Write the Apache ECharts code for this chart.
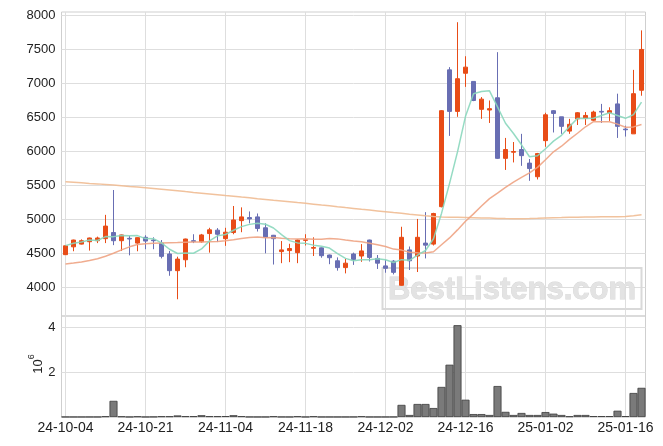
<!DOCTYPE html>
<html><head><meta charset="utf-8">
<script src="https://cdn.jsdelivr.net/npm/echarts@6/dist/echarts.min.js"></script>
<style>html,body{margin:0;padding:0;background:#fff}#c{width:663px;height:446px}</style>
</head><body><div id="c"></div>
<script>
const dates = ['24-10-04','24-10-07','24-10-08','24-10-10','24-10-11','24-10-14','24-10-15','24-10-16','24-10-17','24-10-18',
'24-10-21','24-10-22','24-10-23','24-10-24','24-10-25','24-10-28','24-10-29','24-10-30','24-10-31','24-11-01',
'24-11-04','24-11-05','24-11-06','24-11-07','24-11-08','24-11-11','24-11-12','24-11-13','24-11-14','24-11-15',
'24-11-18','24-11-19','24-11-20','24-11-21','24-11-22','24-11-25','24-11-26','24-11-27','24-11-28','24-11-29',
'24-12-02','24-12-03','24-12-04','24-12-05','24-12-06','24-12-09','24-12-10','24-12-11','24-12-12','24-12-13',
'24-12-16','24-12-17','24-12-18','24-12-19','24-12-20','24-12-23','24-12-24','24-12-26','24-12-27','24-12-30',
'25-01-02','25-01-03','25-01-06','25-01-07','25-01-08','25-01-09','25-01-10','25-01-13','25-01-14','25-01-15',
'25-01-16','25-01-17','25-01-20'];
const opens = [4485,4600,4640,4675,4690,4720,4810,4690,4725,4655,
4740,4700,4655,4495,4250,4410,4690,4675,4795,4845,
4720,4810,4985,5030,5040,4880,4770,4530,4545,4515,
4695,4580,4585,4480,4395,4295,4495,4465,4700,4430,
4320,4390,4035,4555,4465,4655,4640,5190,7200,6590,
7150,7030,6620,6610,6790,5900,5990,6030,5830,5630,
6160,6600,6510,6300,6480,6490,6460,6590,6570,6700,
6330,6260,6900];
const closes = [4615,4700,4690,4730,4730,4905,4690,4775,4715,4735,
4685,4690,4460,4250,4420,4715,4680,4775,4850,4785,
4815,4995,5040,5010,4870,4740,4720,4555,4575,4700,
4705,4590,4470,4440,4295,4360,4415,4540,4445,4360,
4285,4225,4740,4395,4740,4625,5090,6600,6590,7070,
7240,6750,6770,6630,5900,6030,6000,5940,5750,5970,
6540,6560,6370,6400,6570,6530,6580,6580,6600,6370,
6320,6850,7500];
const lows = [4480,4535,4635,4545,4655,4655,4625,4540,4475,4535,
4565,4565,4430,4175,3830,4300,4655,4660,4515,4670,
4615,4785,4815,4945,4825,4505,4340,4360,4375,4360,
4620,4465,4440,4345,4250,4210,4335,4380,4385,4275,
4220,4195,4030,4260,4230,4430,4620,5180,6230,6510,
6950,6740,6480,6420,5890,5730,5840,5790,5570,5590,
6070,6280,6260,6260,6390,6390,6450,6420,6450,6200,
6220,6260,6820];
const highs = [4620,4705,4710,4735,4750,5070,5435,4780,4760,4740,
4770,4740,4700,4540,4455,4720,4785,4790,4880,4875,
4880,5200,5180,5120,5090,4945,4775,4685,4645,4710,
4785,4740,4590,4485,4445,4425,4515,4640,4705,4480,
4405,4405,4895,4605,5010,5110,5100,6610,7240,7900,
7400,7030,6800,6750,7460,6200,6140,6260,5890,5980,
6570,6610,6510,6480,6580,6580,6600,6700,6650,6850,
6380,7200,7780];
const volumes = [3000,2000,2000,3000,3000,30000,720000,25000,4000,25000,
3000,9000,30000,30000,70000,35000,35000,80000,35000,35000,
40000,80000,35000,5000,3000,4000,30000,5000,3000,30000,
4000,30000,3000,3000,3000,3000,5000,30000,3000,3000,
3000,5000,540000,90000,580000,580000,400000,1340000,2330000,4090000,
770000,130000,130000,90000,1380000,230000,90000,180000,90000,90000,
220000,150000,90000,30000,90000,90000,40000,40000,40000,280000,
40000,1070000,1300000];
const ma5 = [4618,4653,4672,4700,4693,4751,4750,4767,4764,4765,
4721,4720,4658,4565,4502,4508,4506,4569,4688,4761,
4781,4844,4897,4930,4947,4932,4877,4780,4691,4658,
4651,4625,4608,4582,4500,4431,4396,4410,4411,4424,
4410,4371,4412,4402,4478,4546,4719,5091,5529,5995,
6517,6848,6883,6892,6657,6415,6265,6099,5923,5938,
6041,6153,6238,6369,6487,6484,6488,6530,6570,6530,
6488,6542,6726];
const ma20 = [4348,4362,4378,4398,4425,4462,4505,4555,4600,4635,
4645,4652,4657,4660,4663,4667,4670,4672,4676,4680,
4690,4705,4723,4737,4744,4735,4737,4726,4719,4717,
4718,4713,4713,4723,4717,4699,4686,4674,4654,4632,
4606,4567,4552,4522,4515,4509,4528,4630,4731,4849,
4976,5084,5199,5308,5389,5472,5551,5621,5686,5767,
5880,5996,6078,6178,6269,6364,6439,6437,6438,6403,
6357,6362,6398];
const maLong = [5555,5548,5540,5532,5525,5516,5507,5497,5487,5478,
5468,5458,5447,5436,5425,5412,5400,5389,5378,5366,
5354,5343,5331,5320,5308,5297,5285,5274,5262,5250,
5239,5227,5215,5204,5190,5177,5165,5152,5140,5128,
5116,5104,5093,5080,5068,5055,5044,5038,5036,5034,
5031,5028,5025,5022,5018,5015,5013,5014,5016,5020,
5025,5028,5030,5034,5036,5038,5040,5041,5042,5043,
5046,5058,5072];
const priceTicks = [4000,4500,5000,5500,6000,6500,7000,7500,8000];
const volTicks = [2000000,4000000];
const dateTickEvery = 10;

const UP = '#e84c17', DOWN = '#686eb3';
const tickInt = (idx) => idx % dateTickEvery === 0;
const chart = echarts.init(document.getElementById('c'), null, {renderer:'canvas'});
const L = 61.5, W = 584;
const gridLine = {show:true, lineStyle:{color:'#dedede', width:1}};
const option = {
  animation:false,
  backgroundColor:'#ffffff',
  textStyle:{fontFamily:'"Liberation Sans", Arial, sans-serif'},
  grid:[
    {left:L, width:W, top:12, height:304, show:true, borderColor:'#cfcfcf', borderWidth:1, backgroundColor:'transparent'},
    {left:L, width:W, top:316, height:101, show:true, borderColor:'#cfcfcf', borderWidth:1, backgroundColor:'transparent'}
  ],
  xAxis:[
    {type:'category', gridIndex:0, data:dates, boundaryGap:true,
     axisLine:{show:false}, axisTick:{show:false, interval:tickInt, alignWithLabel:true},
     axisLabel:{show:false, interval:tickInt},
     splitLine:{show:true, interval:tickInt, alignWithLabel:true, lineStyle:{color:'#dedede'}}},
    {type:'category', gridIndex:1, data:dates, boundaryGap:true,
     axisLine:{show:false}, axisTick:{show:false, interval:tickInt, alignWithLabel:true},
     axisLabel:{show:true, interval:tickInt, fontSize:14, color:'#222', margin:4},
     splitLine:{show:true, interval:tickInt, alignWithLabel:true, lineStyle:{color:'#dedede'}}}
  ],
  yAxis:[
    {type:'value', gridIndex:0, min:3584, max:8050, scale:true,
     axisLine:{show:false}, axisTick:{show:false, customValues:priceTicks},
     axisLabel:{customValues:priceTicks, fontSize:13, color:'#222', margin:6,
       formatter:(v)=>String(Math.round(v))},
     splitLine:gridLine},
    {type:'value', gridIndex:1, min:0, max:4500000,
     axisLine:{show:false}, axisTick:{show:false, customValues:volTicks},
     axisLabel:{customValues:volTicks, fontSize:13, color:'#222', margin:6,
       formatter:(v)=>String(Math.round(v/1e6))},
     splitLine:gridLine}
  ],
  graphic:[
    {type:'rect', z:1, shape:{x:382.5, y:268, width:259, height:41},
     style:{fill:'rgba(255,255,255,0)', stroke:'#d9d9d9', lineWidth:2}},
    {type:'text', z:1, x:512, y:290,
     style:{text:'BestListens.com', font:'bold 31px "Liberation Sans", Arial, sans-serif',
       fill:'#e3e3e3', stroke:'#d6d6d6', lineWidth:0.8, align:'center', verticalAlign:'middle'}},
    {type:'text', z:5, x:36, y:364, rotation:Math.PI/2,
     style:{text:'{a|10}{b|6}', align:'center', verticalAlign:'middle',
       rich:{a:{fontSize:13, fill:'#222', fontFamily:'"Liberation Sans", Arial', verticalAlign:'bottom', lineHeight:18},
             b:{fontSize:9, fill:'#222', fontFamily:'"Liberation Sans", Arial', verticalAlign:'top', lineHeight:18}}}}
  ],
  series:[
    {type:'candlestick', xAxisIndex:0, yAxisIndex:0, barWidth:4,
     data: dates.map((d,i)=>[opens[i], closes[i], lows[i], highs[i]]),
     itemStyle:{color:UP, color0:DOWN, borderColor:UP, borderColor0:DOWN, borderWidth:1}},
    {type:'line', xAxisIndex:0, yAxisIndex:0, data:maLong, showSymbol:false, z:3,
     lineStyle:{color:'#efbb92', width:1.5, opacity:0.9}},
    {type:'line', xAxisIndex:0, yAxisIndex:0, data:ma20, showSymbol:false, z:3,
     lineStyle:{color:'#eea383', width:1.5, opacity:0.9}},
    {type:'line', xAxisIndex:0, yAxisIndex:0, data:ma5, showSymbol:false, z:3,
     lineStyle:{color:'#8ad7bd', width:1.5, opacity:0.9}},
    {type:'bar', xAxisIndex:1, yAxisIndex:1, data:volumes, barCategoryGap:'0%',
     itemStyle:{color:'#7a7a7a', borderColor:'#3c3c3c', borderWidth:0.8}}
  ]
};
chart.setOption(option);
</script></body></html>
